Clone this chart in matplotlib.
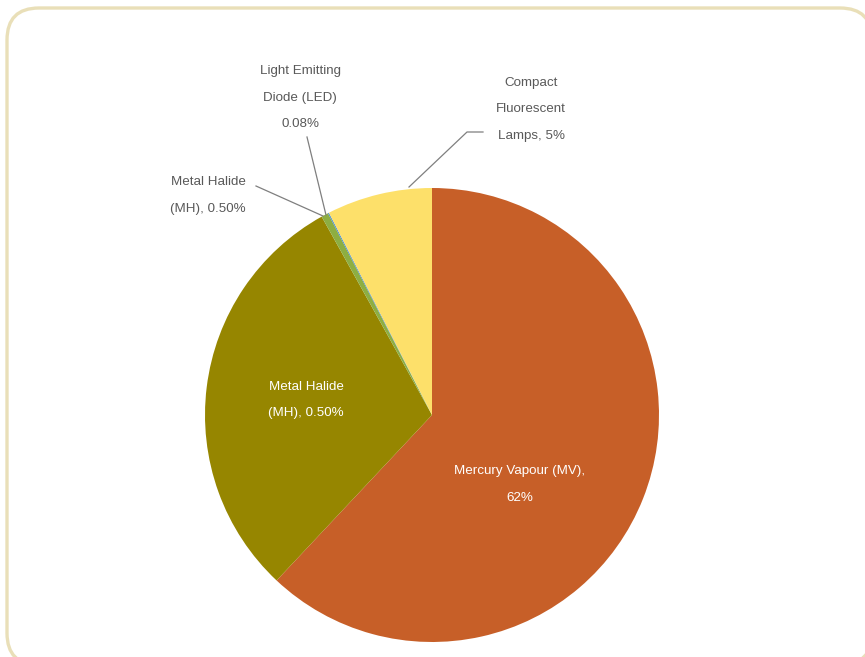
import matplotlib
matplotlib.use("Agg")
import matplotlib.pyplot as plt
from matplotlib.patches import FancyBboxPatch

plt.rcParams['font.family'] = ['Liberation Sans', 'DejaVu Sans']

# Lamp technology shares (percent of installed street lights)
categories = ["Mercury Vapour (MV)", "Metal Halide (MH)", "Metal Halide (MH)",
              "Light Emitting Diode (LED)", "Compact Fluorescent Lamps"]
shares = [62, 29.92, 0.50, 0.08, 7.50]
label_texts = ["Mercury Vapour (MV),\n62%",
               "Metal Halide\n(MH), 0.50%",
               "Metal Halide\n(MH), 0.50%",
               "Light Emitting\nDiode (LED)\n0.08%",
               "Compact\nFluorescent\nLamps, 5%"]
colors = ["#C75F28", "#968600", "#8DAE42", "#4F8FCC", "#FDE06A"]

W, H = 865, 657
fig = plt.figure(figsize=(W / 100, H / 100), dpi=100)
ax = fig.add_axes([0, 0, 1, 1])


def py(y):
    """Convert a top-down pixel row to data y."""
    return H - y


# rounded frame
frame = FancyBboxPatch((7, py(665)), 865, 657, boxstyle="round,pad=0,rounding_size=32",
                       facecolor="white", edgecolor="#E9DFB8", linewidth=2.4, zorder=0)
ax.add_patch(frame)

ax.pie(shares, colors=colors, startangle=90, counterclock=False,
       center=(432, py(415)), radius=227, frame=True,
       wedgeprops=dict(linewidth=0, antialiased=True))
ax.set_xlim(0, W)
ax.set_ylim(0, H)
ax.set_aspect('equal')
ax.axis('off')

txt_kw = dict(fontsize=9.6, ha='center', va='center', linespacing=2.6)

# labels inside the big slices
ax.text(520, py(484.5), label_texts[0], color='white', **txt_kw)
ax.text(306, py(400), label_texts[1], color='white', **txt_kw)

# outside labels with leader lines
gray = '#595959'
line_c = '#7F7F7F'
ax.text(208, py(195.5), label_texts[2], color=gray, **txt_kw)
ax.plot([256, 323], [py(186), py(216)], color=line_c, lw=0.9)

ax.text(300, py(97.5), label_texts[3], color=gray, **txt_kw)
ax.plot([307, 326], [py(137), py(215)], color=line_c, lw=0.9)

ax.text(531, py(109.5), label_texts[4], color=gray, **txt_kw)
ax.plot([483, 467, 409], [py(132), py(132), py(187)], color=line_c, lw=0.9)

fig.savefig("out.png", dpi=100)
